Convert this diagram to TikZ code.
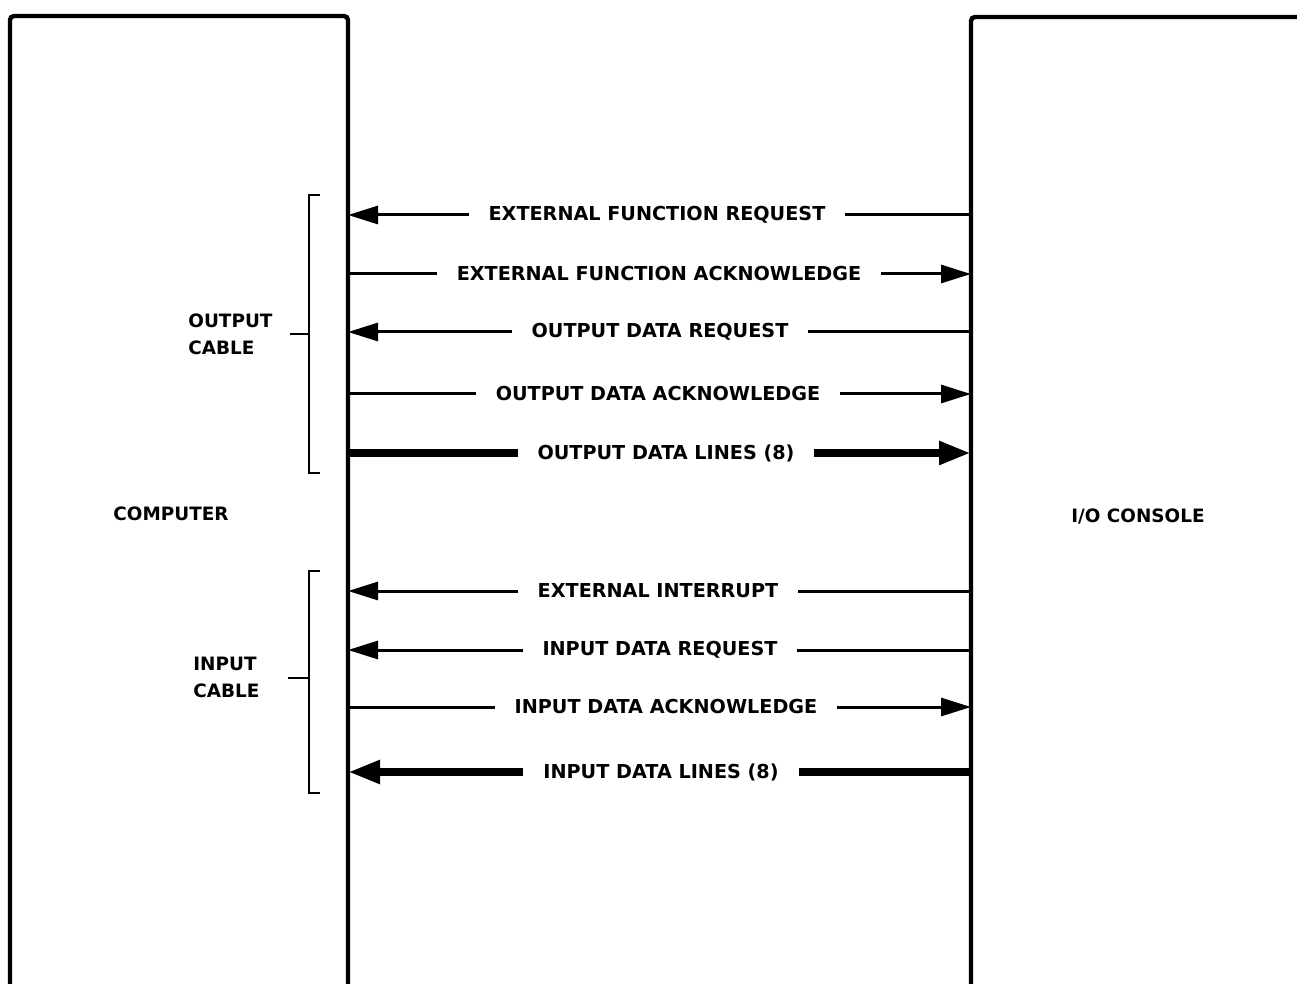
\documentclass[tikz,border=0pt]{standalone}
\usepackage{fontspec}
\setmainfont{DejaVu Sans}
\usetikzlibrary{arrows.meta}
\begin{document}
\begin{tikzpicture}[x=0.5pt,y=-0.5pt,
  box/.style={line width=2.2pt,rounded corners=2pt},
  sig/.style={line width=1.5pt,-{Triangle[length=15pt,width=9pt]}},
  bus/.style={line width=4pt,-{Triangle[length=16pt,width=11pt]}},
  lbl/.style={fill=white,inner xsep=10pt,inner ysep=3pt,font=\bfseries\fontsize{9.6}{11}\selectfont},
  txt/.style={font=\bfseries\fontsize{9.2}{13.5}\selectfont,align=left,inner sep=0pt},
  brk/.style={line width=1pt}]
\useasboundingbox (0,0) rectangle (1297,984);
% boxes
\draw[box] (10,1000) -- (10,16) -- (348,16) -- (348,1000);
\draw[box] (971,1000) -- (971,17) -- (1310,17);
\node[txt] (comp) at (171,514) {COMPUTER};
\node[txt] (cons) at (1138,517) {I/O CONSOLE};
% edge points
\foreach \n/\y in {1/215,2/274,3/332,4/394,5/453,6/591,7/650,8/707,9/772}{
  \coordinate (c\n) at (348,\y);
  \coordinate (o\n) at (971,\y);
}
% signals
\draw[sig] (o1) -- (c1);
\draw[sig] (c2) -- (o2);
\draw[sig] (o3) -- (c3);
\draw[sig] (c4) -- (o4);
\draw[bus] (c5) -- (o5);
\draw[sig] (o6) -- (c6);
\draw[sig] (o7) -- (c7);
\draw[sig] (c8) -- (o8);
\draw[bus] (o9) -- (c9);
% labels
\node[lbl] (l1) at (657,215) {EXTERNAL FUNCTION REQUEST};
\node[lbl] (l2) at (659,274) {EXTERNAL FUNCTION ACKNOWLEDGE};
\node[lbl] (l3) at (660,332) {OUTPUT DATA REQUEST};
\node[lbl] (l4) at (658,394) {OUTPUT DATA ACKNOWLEDGE};
\node[lbl] (l5) at (666,453) {OUTPUT DATA LINES (8)};
\node[lbl] (l6) at (658,591) {EXTERNAL INTERRUPT};
\node[lbl] (l7) at (660,650) {INPUT DATA REQUEST};
\node[lbl] (l8) at (666,707) {INPUT DATA ACKNOWLEDGE};
\node[lbl] (l9) at (661,772) {INPUT DATA LINES (8)};
% brackets
\draw[brk] (320,195) -- (309,195) -- (309,473) -- (320,473);
\draw[brk] (290,334) -- (309,334);
\node[txt,anchor=west] (oc) at (188,334) {OUTPUT\\CABLE};
\draw[brk] (320,571) -- (309,571) -- (309,793) -- (320,793);
\draw[brk] (288,678) -- (309,678);
\node[txt,anchor=west] (ic) at (193,677) {INPUT\\CABLE};
\end{tikzpicture}
\end{document}
